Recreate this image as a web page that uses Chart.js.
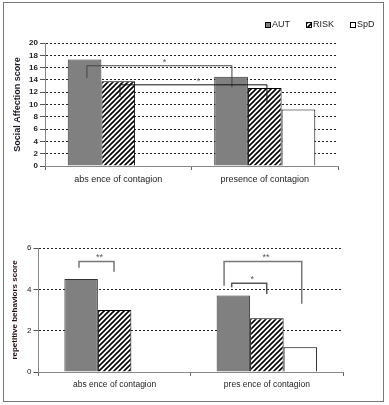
<!DOCTYPE html>
<html>
<head>
<meta charset="utf-8">
<script src="https://cdn.jsdelivr.net/npm/chart.js@4/dist/chart.umd.min.js"></script>
<style>
  html, body { margin: 0; padding: 0; background: #fff; }
  #wrap { position: relative; width: 389px; height: 405px; }
  #frame { position: absolute; left: 3px; top: 2px; width: 379px; height: 398px; border: 1px solid #777; }
  .box { position: absolute; left: 0; width: 389px; }
  #topBox { top: 0; height: 200px; }
  #botBox { top: 200px; height: 205px; }
</style>
</head>
<body>
<div id="wrap">
  <div id="frame"></div>
  <div class="box" id="topBox"><canvas id="topChart"></canvas></div>
  <div class="box" id="botBox"><canvas id="botChart"></canvas></div>
</div>
<script>
const seriesNames = ["AUT", "RISK", "SpD"];

// top panel
const topCategories = ["abs ence of contagion", "presence of contagion"];
const topAUT = [17.3, 14.5];
const topRISK = [13.8, 12.7];
const topSpD = [null, 9.2];
const topTicks = [0, 2, 4, 6, 8, 10, 12, 14, 16, 18, 20];

// bottom panel
const botCategories = ["abs ence of contagion", "pres ence of contagion"];
const botAUT = [4.5, 3.7];
const botRISK = [3.0, 2.6];
const botSpD = [null, 1.2];
const botTicks = [0, 2, 4, 6];

// significance brackets: x in category units, y in score units
const topBrackets = [
  { x1: -0.214, x2: 0.776, y: 16.3, y1: 14.3, y2: 12.8, text: "*", color: "#444" },
  { x1: 0.012, x2: 1.015, y: 13.2, y1: 11.2, y2: 10.2, text: "*", color: "#111" },
];
const botBrackets = [
  { x1: -0.234, x2: -0.004, y: 5.35, y1: 5.05, y2: 4.85, text: "**", color: "#777" },
  { x1: 0.719, x2: 1.229, y: 5.35, y1: 4.17, y2: 3.3, text: "**", color: "#777" },
  { x1: 0.769, x2: 0.999, y: 4.3, y1: 4.1, y2: 3.78, text: "*", color: "#555" },
];

function hatch() {
  const c = document.createElement("canvas");
  c.width = 5; c.height = 5;
  const g = c.getContext("2d");
  g.fillStyle = "#fff";
  g.fillRect(0, 0, 5, 5);
  g.strokeStyle = "#000";
  g.lineWidth = 1.6;
  g.beginPath();
  g.moveTo(-1, 6); g.lineTo(6, -1);
  g.moveTo(-1, 1); g.lineTo(1, -1);
  g.moveTo(4, 6); g.lineTo(6, 4);
  g.stroke();
  return g.createPattern(c, "repeat");
}
const hatchFill = hatch();

function makeSets(aut, risk, spd) {
  return [
    { label: seriesNames[0], data: aut, backgroundColor: "#808080", borderColor: "#333", borderWidth: 1 },
    { label: seriesNames[1], data: risk, backgroundColor: hatchFill, borderColor: "#000", borderWidth: 1 },
    { label: seriesNames[2], data: spd, backgroundColor: "#fff", borderColor: "#000", borderWidth: 1 },
  ];
}

const bracketPlugin = {
  id: "brackets",
  afterDatasetsDraw(chart, args, opts) {
    const { ctx } = chart;
    const xs = chart.scales.x, ys = chart.scales.y;
    ctx.save();
    opts.list.forEach(b => {
      const x1 = xs.getPixelForValue(b.x1), x2 = xs.getPixelForValue(b.x2);
      const y = ys.getPixelForValue(b.y);
      ctx.strokeStyle = b.color;
      ctx.lineWidth = opts.width;
      ctx.beginPath();
      ctx.moveTo(x1, ys.getPixelForValue(b.y1));
      ctx.lineTo(x1, y);
      ctx.lineTo(x2, y);
      ctx.lineTo(x2, ys.getPixelForValue(b.y2));
      ctx.stroke();
      ctx.fillStyle = "#555";
      ctx.font = "9px 'Liberation Sans', Arial";
      ctx.textAlign = "center";
      ctx.textBaseline = "bottom";
      ctx.fillText(b.text, (x1 + x2) / 2 + opts.dx, y + 1);
    });
    ctx.restore();
  }
};

const legendPlugin = {
  id: "miniLegend",
  afterDraw(chart, args, opts) {
    if (!opts.show) return;
    const { ctx } = chart;
    ctx.save();
    ctx.font = "9px 'Liberation Sans', Arial";
    ctx.textBaseline = "middle";
    let x = opts.x;
    chart.data.datasets.forEach(ds => {
      ctx.fillStyle = ds.backgroundColor;
      ctx.fillRect(x, opts.y - 3, 6, 6);
      ctx.strokeStyle = "#000";
      ctx.lineWidth = 1;
      ctx.strokeRect(x + 0.5, opts.y - 2.5, 5, 5);
      ctx.fillStyle = "#222";
      ctx.fillText(ds.label, x + 7, opts.y);
      x += 7 + ctx.measureText(ds.label).width + 16;
    });
    ctx.restore();
  }
};

function makeChart(id, cats, sets, cfg) {
  return new Chart(document.getElementById(id), {
    type: "bar",
    data: { labels: cats, datasets: sets },
    plugins: [bracketPlugin, legendPlugin],
    options: {
      responsive: true,
      maintainAspectRatio: false,
      animation: false,
      layout: { padding: cfg.padding },
      datasets: { bar: { categoryPercentage: cfg.catPct, barPercentage: 1 } },
      plugins: {
        legend: { display: false },
        tooltip: { enabled: false },
        brackets: { list: cfg.brackets, width: cfg.bracketWidth, dx: cfg.starDx },
        miniLegend: { show: cfg.legend, x: 265, y: 25 },
      },
      scales: {
        x: {
          afterFit: s => { s.height = cfg.xHeight; },
          grid: { drawOnChartArea: false, tickLength: 4, color: "#666" },
          border: { color: "#888", width: 1 },
          ticks: { color: "#222", padding: 4, font: { family: "'Liberation Sans', Arial", size: cfg.catFont } },
        },
        y: {
          min: 0,
          max: cfg.ticks[cfg.ticks.length - 1],
          afterFit: s => { s.width = cfg.yWidth; },
          afterBuildTicks: s => { s.ticks = cfg.ticks.map(v => ({ value: v })); },
          grid: { color: "#222", tickLength: 5, tickColor: "#555", tickBorderDash: [] },
          border: { color: "#888", width: 1, dash: [2, 2] },
          ticks: { autoSkip: false, color: "#222", padding: 2, font: { family: "'Liberation Sans', Arial", size: 8, weight: cfg.tickWeight } },
          title: {
            display: true, text: cfg.yTitle, color: cfg.yTitleColor,
            padding: { top: cfg.titlePad, bottom: 0 },
            font: { family: "'Liberation Sans', Arial", size: cfg.titleFont, weight: "bold" },
          },
        },
      },
    },
  });
}

makeChart("topChart", topCategories, makeSets(topAUT, topRISK, topSpD), {
  padding: { top: 43, right: 51, bottom: 0, left: 0 },
  catPct: 0.69, ticks: topTicks, brackets: topBrackets, bracketWidth: 1, starDx: 5,
  legend: true, xHeight: 34, yWidth: 45, catFont: 9, tickWeight: "bold",
  yTitle: "Social Affection score", yTitleColor: "#1a1a2a", titlePad: 12, titleFont: 9,
});

makeChart("botChart", botCategories, makeSets(botAUT, botRISK, botSpD), {
  padding: { top: 48, right: 46, bottom: 0, left: 0 },
  catPct: 0.66, ticks: botTicks, brackets: botBrackets, bracketWidth: 1.5, starDx: 3,
  legend: false, xHeight: 33, yWidth: 38.5, catFont: 8.5, tickWeight: "normal",
  yTitle: "repetitive behaviors score", yTitleColor: "#2a1010", titlePad: 10, titleFont: 8,
});
</script>
</body>
</html>
